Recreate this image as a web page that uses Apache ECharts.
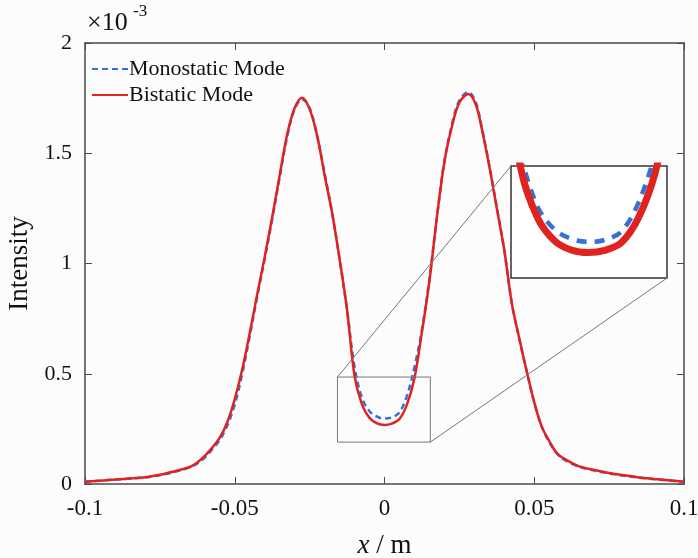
<!DOCTYPE html>
<html>
<head>
<meta charset="utf-8">
<script src="https://cdn.jsdelivr.net/npm/echarts@6/dist/echarts.min.js"></script>
<style>html,body{margin:0;padding:0;background:#fcfcfc;}#c{width:698px;height:558px;}</style>
</head>
<body>
<div id="c"></div>
<script>
// x positions (m)
const xs = [-0.1,-0.09,-0.08,-0.075,-0.07,-0.065,-0.0625,-0.06,-0.0575,-0.055,-0.0525,-0.05,-0.0475,-0.045,-0.0425,-0.04,-0.0375,-0.035,-0.0325,-0.03,-0.0275,-0.025,-0.0225,-0.02,-0.0175,-0.015,-0.0125,-0.01,-0.0075,-0.005,-0.0025,0,0.0025,0.005,0.0075,0.01,0.0125,0.015,0.0175,0.02,0.0225,0.025,0.028,0.0305,0.0325,0.035,0.0375,0.04,0.0425,0.045,0.0475,0.05,0.0525,0.055,0.0575,0.06,0.065,0.07,0.075,0.08,0.085,0.09,0.1];
// Intensity (x10^-3)
const monostatic = [0.010,0.020,0.030,0.040,0.055,0.076,0.093,0.120,0.158,0.200,0.265,0.360,0.500,0.670,0.850,1.020,1.200,1.390,1.575,1.700,1.745,1.705,1.580,1.410,1.230,1.020,0.790,0.530,0.390,0.330,0.305,0.297,0.302,0.325,0.400,0.530,0.700,0.930,1.210,1.465,1.630,1.740,1.777,1.730,1.615,1.445,1.255,1.060,0.820,0.660,0.510,0.370,0.260,0.190,0.140,0.110,0.079,0.061,0.048,0.037,0.029,0.022,0.010];
const bistatic = [0.010,0.020,0.031,0.042,0.058,0.077,0.097,0.128,0.165,0.210,0.280,0.385,0.520,0.685,0.860,1.030,1.210,1.400,1.585,1.705,1.752,1.700,1.580,1.400,1.230,1.020,0.790,0.490,0.360,0.300,0.275,0.268,0.274,0.295,0.360,0.480,0.690,0.920,1.210,1.460,1.620,1.730,1.769,1.720,1.610,1.440,1.250,1.060,0.820,0.660,0.510,0.370,0.260,0.195,0.140,0.115,0.080,0.064,0.050,0.040,0.030,0.023,0.010];
const xTicks = [-0.1,-0.05,0,0.05,0.1];
const yTicks = [0,0.5,1,1.5,2];
const seriesNames = ['Monostatic Mode','Bistatic Mode'];
// zoomed region (data units) and inset range
const zoomBox = {x0:-0.0157, x1:0.0153, y0:0.19, y1:0.485};
const insetRange = {x0:-0.0115, x1:0.0118, y0:0.2, y1:0.5};

const FONT = 'Liberation Serif';
const BLUE = '#3470d8', RED = '#e0231e', AX = '#4a4a4a';
const monoData = xs.map((x,i)=>[x, monostatic[i]]);
const biData = xs.map((x,i)=>[x, bistatic[i]]);
const fmt = v => String(Math.round(v*100)/100);

const chart = echarts.init(document.getElementById('c'), null, {renderer:'canvas'});
const axLine = {show:true, onZero:false, lineStyle:{color:AX, width:1.5}};
const axTick = {show:true, inside:true, length:7, lineStyle:{color:AX}};
const option = {
  backgroundColor:'#fcfcfc',
  animation:false,
  textStyle:{fontFamily:FONT},
  grid:[
    {left:85, right:14, top:43, bottom:74, containLabel:false, outerBoundsMode:'none'},
    {left:511, top:166, width:156, height:112, show:true, borderColor:'#333', borderWidth:1.5, backgroundColor:'#fff', z:5, containLabel:false, outerBoundsMode:'none'}
  ],
  legend:{
    data:seriesNames, orient:'vertical', left:86, top:53, itemGap:4, itemWidth:36, itemHeight:12,
    itemStyle:{opacity:0},
    textStyle:{fontFamily:FONT, fontSize:22, color:'#111', padding:[0,0,0,-4]}
  },
  xAxis:[
    {type:'value', gridIndex:0, min:xTicks[0], max:xTicks[xTicks.length-1], interval:0.05, position:'bottom',
     name:'{i|x} / m', nameLocation:'middle', nameGap:48,
     nameTextStyle:{fontFamily:FONT, fontSize:27, color:'#111', rich:{i:{fontFamily:FONT, fontSize:27, fontStyle:'italic', color:'#111'}}},
     axisLine:axLine, axisTick:axTick,
     axisLabel:{fontFamily:FONT, fontSize:23, color:'#111', margin:13, formatter:fmt}, splitLine:{show:false}},
    {type:'value', gridIndex:0, min:xTicks[0], max:xTicks[xTicks.length-1], interval:0.05, position:'top',
     axisLine:axLine, axisTick:axTick, axisLabel:{show:false}, splitLine:{show:false}},
    {type:'value', gridIndex:1, min:insetRange.x0, max:insetRange.x1, show:false, splitLine:{show:false}}
  ],
  yAxis:[
    {type:'value', gridIndex:0, min:yTicks[0], max:yTicks[yTicks.length-1], interval:0.5, position:'left',
     name:'Intensity', nameLocation:'middle', nameGap:46,
     nameTextStyle:{fontFamily:FONT, fontSize:27, color:'#111'},
     axisLine:axLine, axisTick:axTick,
     axisLabel:{fontFamily:FONT, fontSize:22, color:'#111', margin:13, formatter:fmt}, splitLine:{show:false}},
    {type:'value', gridIndex:0, min:yTicks[0], max:yTicks[yTicks.length-1], interval:0.5, position:'right',
     axisLine:axLine, axisTick:axTick, axisLabel:{show:false}, splitLine:{show:false}},
    {type:'value', gridIndex:1, min:insetRange.y0, max:insetRange.y1, show:false, splitLine:{show:false}}
  ],
  series:[
    {name:seriesNames[0], type:'line', xAxisIndex:0, yAxisIndex:0, data:monoData, smooth:0.35,
     showSymbol:false, symbol:'none', lineStyle:{color:BLUE, width:2.5, type:[6,4]}, itemStyle:{color:BLUE}, z:2},
    {name:seriesNames[1], type:'line', xAxisIndex:0, yAxisIndex:0, data:biData, smooth:0.35,
     showSymbol:false, symbol:'none', lineStyle:{color:RED, width:2.5}, itemStyle:{color:RED}, z:3},
    {name:seriesNames[0], type:'line', xAxisIndex:2, yAxisIndex:2, data:monoData, smooth:0.35, clip:true,
     showSymbol:false, symbol:'none', lineStyle:{color:BLUE, width:4.5, type:[10,8]}, z:6},
    {name:seriesNames[1], type:'line', xAxisIndex:2, yAxisIndex:2, data:biData, smooth:0.35, clip:true,
     showSymbol:false, symbol:'none', lineStyle:{color:RED, width:7}, z:7}
  ]
};
chart.setOption(option);

// annotation: zoom box and connector lines, exponent label
const p = (pt, g) => chart.convertToPixel(g, pt);
const g0 = {xAxisIndex:0, yAxisIndex:0};
const g1 = {xAxisIndex:2, yAxisIndex:2};
const bTL = p([zoomBox.x0, zoomBox.y1], g0), bBR = p([zoomBox.x1, zoomBox.y0], g0);
const iTL = p([insetRange.x0, insetRange.y1], g1), iBR = p([insetRange.x1, insetRange.y0], g1);
chart.setOption({
  graphic:[
    {type:'rect', shape:{x:bTL[0], y:bTL[1], width:bBR[0]-bTL[0], height:bBR[1]-bTL[1]}, style:{fill:null, stroke:'#777', lineWidth:1}, z:10},
    {type:'line', shape:{x1:bTL[0], y1:bTL[1], x2:iTL[0], y2:iTL[1]}, style:{stroke:'#777', lineWidth:1}, z:10},
    {type:'line', shape:{x1:bBR[0], y1:bBR[1], x2:iBR[0], y2:iBR[1]}, style:{stroke:'#777', lineWidth:1}, z:10},
    {type:'text', left:87, top:10, style:{text:'×10', fontFamily:FONT, fontSize:26, fill:'#111'}, z:10},
    {type:'text', left:133, top:3, style:{text:'-3', fontFamily:FONT, fontSize:17, fill:'#111'}, z:10}
  ]
});
</script>
</body>
</html>
